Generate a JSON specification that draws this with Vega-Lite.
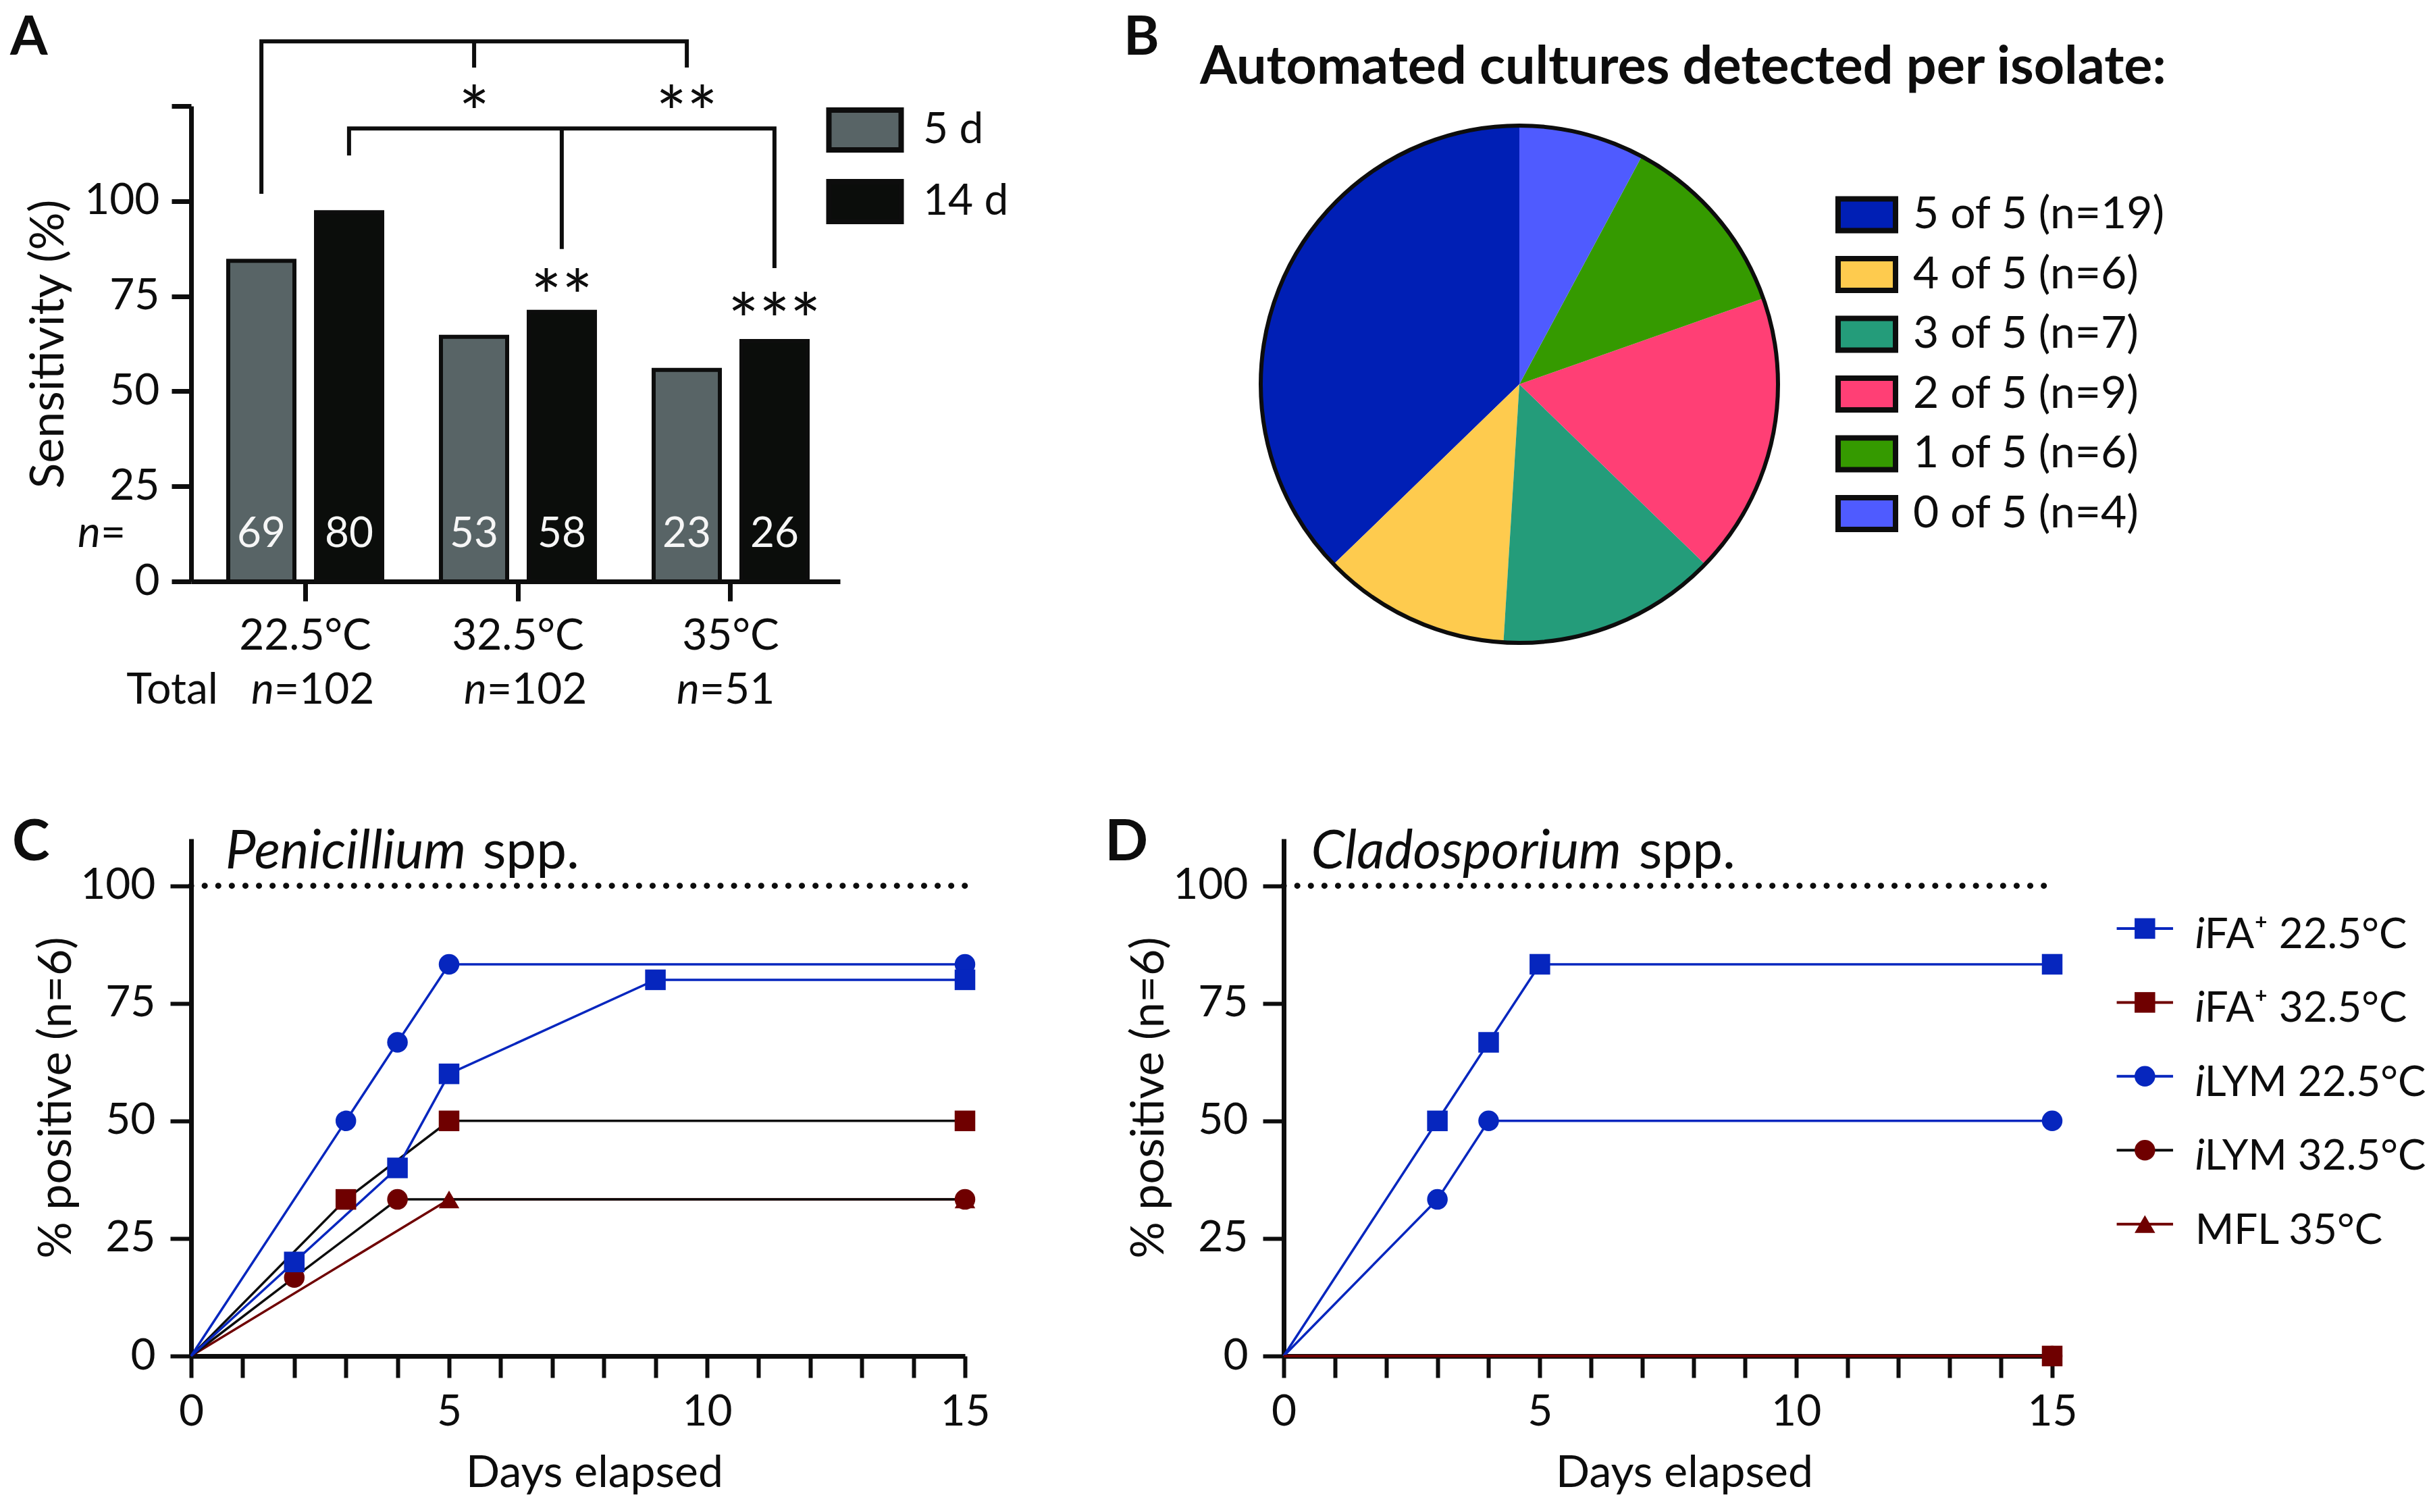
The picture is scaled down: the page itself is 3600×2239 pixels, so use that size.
{
  "$schema": "https://vega.github.io/schema/vega-lite/v6.json",
  "background": "white",
  "padding": {"left": 15, "top": 16, "right": 0, "bottom": 0},
  "columns": 2,
  "align": "all",
  "bounds": "flush",
  "spacing": {"row": 261, "column": 472},
  "resolve": {"scale": {"color": "independent", "fill": "independent", "stroke": "independent", "shape": "independent", "theta": "independent"}},
  "datasets": {
    "bars": [
      {"temp": "22.5°C", "time": "5 d", "sens": 84.3, "n": 69},
      {"temp": "22.5°C", "time": "14 d", "sens": 97.1, "n": 80},
      {"temp": "32.5°C", "time": "5 d", "sens": 64.3, "n": 53},
      {"temp": "32.5°C", "time": "14 d", "sens": 70.9, "n": 58},
      {"temp": "35°C", "time": "5 d", "sens": 55.6, "n": 23},
      {"temp": "35°C", "time": "14 d", "sens": 63.2, "n": 26}
    ],
    "totals": [
      {"temp": "22.5°C", "tot": "=102"},
      {"temp": "32.5°C", "tot": "=102"},
      {"temp": "35°C", "tot": "=51"}
    ],
    "brackets": [
      {"seg": "b1", "o": 1, "g": -0.206, "y": 101.9},
      {"seg": "b1", "o": 2, "g": -0.206, "y": 142.0},
      {"seg": "b1", "o": 3, "g": 1.794, "y": 142.0},
      {"seg": "b1", "o": 4, "g": 1.794, "y": 135.1},
      {"seg": "b1m", "o": 1, "g": 0.794, "y": 142.0},
      {"seg": "b1m", "o": 2, "g": 0.794, "y": 135.1},
      {"seg": "b2", "o": 1, "g": 0.206, "y": 112.0},
      {"seg": "b2", "o": 2, "g": 0.206, "y": 119.1},
      {"seg": "b2", "o": 3, "g": 2.206, "y": 119.1},
      {"seg": "b2", "o": 4, "g": 2.206, "y": 82.4},
      {"seg": "b2m", "o": 1, "g": 1.206, "y": 119.1},
      {"seg": "b2m", "o": 2, "g": 1.206, "y": 87.4}
    ],
    "stars": [
      {"g": 0.794, "y": 116.1, "s": "*"},
      {"g": 1.794, "y": 116.1, "s": "**"},
      {"g": 1.206, "y": 67.9, "s": "**"},
      {"g": 2.206, "y": 61.7, "s": "***"}
    ],
    "pie": [
      {"cat": "5 of 5 (n=19)", "k": 5, "count": 19},
      {"cat": "4 of 5 (n=6)", "k": 4, "count": 6},
      {"cat": "3 of 5 (n=7)", "k": 3, "count": 7},
      {"cat": "2 of 5 (n=9)", "k": 2, "count": 9},
      {"cat": "1 of 5 (n=6)", "k": 1, "count": 6},
      {"cat": "0 of 5 (n=4)", "k": 0, "count": 4}
    ],
    "pen": [
      {"series": "MFL 35°C", "day": 0, "pct": 0},
      {"series": "MFL 35°C", "day": 5, "pct": 33.3},
      {"series": "MFL 35°C", "day": 15, "pct": 33.3},
      {"series": "iLYM 32.5°C", "day": 0, "pct": 0},
      {"series": "iLYM 32.5°C", "day": 2, "pct": 16.7},
      {"series": "iLYM 32.5°C", "day": 4, "pct": 33.3},
      {"series": "iLYM 32.5°C", "day": 15, "pct": 33.3},
      {"series": "iFA+ 32.5°C", "day": 0, "pct": 0},
      {"series": "iFA+ 32.5°C", "day": 3, "pct": 33.3},
      {"series": "iFA+ 32.5°C", "day": 5, "pct": 50},
      {"series": "iFA+ 32.5°C", "day": 15, "pct": 50},
      {"series": "iLYM 22.5°C", "day": 0, "pct": 0},
      {"series": "iLYM 22.5°C", "day": 3, "pct": 50},
      {"series": "iLYM 22.5°C", "day": 4, "pct": 66.7},
      {"series": "iLYM 22.5°C", "day": 5, "pct": 83.3},
      {"series": "iLYM 22.5°C", "day": 15, "pct": 83.3},
      {"series": "iFA+ 22.5°C", "day": 0, "pct": 0},
      {"series": "iFA+ 22.5°C", "day": 2, "pct": 20},
      {"series": "iFA+ 22.5°C", "day": 4, "pct": 40},
      {"series": "iFA+ 22.5°C", "day": 5, "pct": 60},
      {"series": "iFA+ 22.5°C", "day": 9, "pct": 80},
      {"series": "iFA+ 22.5°C", "day": 15, "pct": 80}
    ],
    "clad": [
      {"series": "iLYM 32.5°C", "day": 0, "pct": 0},
      {"series": "iLYM 32.5°C", "day": 15, "pct": 0},
      {"series": "MFL 35°C", "day": 0, "pct": 0},
      {"series": "MFL 35°C", "day": 15, "pct": 0},
      {"series": "iLYM 22.5°C", "day": 0, "pct": 0},
      {"series": "iLYM 22.5°C", "day": 3, "pct": 33.3},
      {"series": "iLYM 22.5°C", "day": 4, "pct": 50},
      {"series": "iLYM 22.5°C", "day": 15, "pct": 50},
      {"series": "iFA+ 22.5°C", "day": 0, "pct": 0},
      {"series": "iFA+ 22.5°C", "day": 3, "pct": 50},
      {"series": "iFA+ 22.5°C", "day": 4, "pct": 66.7},
      {"series": "iFA+ 22.5°C", "day": 5, "pct": 83.3},
      {"series": "iFA+ 22.5°C", "day": 15, "pct": 83.3},
      {"series": "iFA+ 32.5°C", "day": 0, "pct": 0},
      {"series": "iFA+ 32.5°C", "day": 15, "pct": 0}
    ],
    "legD": [
      {"series": "iFA+ 22.5°C", "rest": "FA⁺ 22.5°C"},
      {"series": "iFA+ 32.5°C", "rest": "FA⁺ 32.5°C"},
      {"series": "iLYM 22.5°C", "rest": "LYM 22.5°C"},
      {"series": "iLYM 32.5°C", "rest": "LYM 32.5°C"},
      {"series": "MFL 35°C", "rest": "MFL 35°C"}
    ]
  },
  "concat": [
    {
      "width": 961,
      "height": 704,
      "layer": [
        {
          "layer": [
            {
              "data": {"name": "bars"},
              "mark": {"type": "bar", "stroke": "#0d0d0d", "strokeWidth": 6},
              "encoding": {
                "x": {"field": "temp", "type": "nominal", "scale": {"domain": ["22.5°C", "32.5°C", "35°C"], "paddingInner": 0.276, "paddingOuter": 0.1634, "align": 0.534}, "axis": {"title": null, "labelAngle": 0, "tickSize": 29, "tickWidth": 7, "domainWidth": 7, "labelPadding": 20, "labelFontSize": 64}},
                "xOffset": {"field": "time", "type": "nominal", "scale": {"domain": ["5 d", "14 d"], "paddingInner": 0.246, "paddingOuter": 0}},
                "y": {"field": "sens", "type": "quantitative", "scale": {"domain": [0, 125], "nice": false}, "axis": {"values": [0, 25, 50, 75, 100, 125], "labelExpr": "datum.value === 125 ? '' : datum.label", "title": "Sensitivity (%)", "titleFontSize": 70, "titlePadding": 16, "tickSize": 29, "tickWidth": 7, "domainWidth": 7, "labelPadding": 18, "labelFontSize": 64}},
                "fill": {"field": "time", "type": "nominal", "scale": {"domain": ["5 d", "14 d"], "range": ["#586466", "#0b0d0b"]}, "legend": {"orient": "none", "legendX": 964.5, "legendY": 2, "title": null, "symbolType": "M-1.814,-1H1.814V1H-1.814Z", "symbolSize": 3481, "symbolStrokeColor": "#0d0d0d", "symbolStrokeWidth": 8, "labelFontSize": 64, "labelOffset": 52.5, "rowPadding": 15, "padding": 0, "encode": {"symbols": {"update": {"stroke": {"value": "#0d0d0d"}, "strokeWidth": {"value": 8}}}}}}
              }
            },
            {
              "data": {"name": "bars"},
              "mark": {"type": "text", "baseline": "alphabetic", "align": "center", "fontSize": 62, "color": "#f6f6f6"},
              "encoding": {
                "x": {"field": "temp", "type": "nominal"},
                "xOffset": {"field": "time", "type": "nominal"},
                "y": {"datum": 9.1},
                "text": {"field": "n"}
              }
            },
            {
              "data": {"name": "totals"},
              "mark": {"type": "text", "text": "n", "fontStyle": "italic", "align": "right", "baseline": "alphabetic", "fontSize": 64, "dx": -46, "color": "#0d0d0d"},
              "encoding": {"x": {"field": "temp", "type": "nominal"}, "y": {"datum": -32.2}}
            },
            {
              "data": {"name": "totals"},
              "mark": {"type": "text", "align": "left", "baseline": "alphabetic", "fontSize": 64, "dx": -46, "color": "#0d0d0d"},
              "encoding": {"x": {"field": "temp", "type": "nominal"}, "y": {"datum": -32.2}, "text": {"field": "tot"}}
            }
          ]
        },
        {
          "layer": [
            {
              "data": {"name": "brackets"},
              "mark": {"type": "line", "strokeWidth": 6, "color": "#0d0d0d", "strokeJoin": "miter", "strokeCap": "butt"},
              "encoding": {
                "x": {"field": "g", "type": "quantitative", "scale": {"domain": [-0.5365, 2.5143], "nice": false, "zero": false}, "axis": null},
                "y": {"field": "y", "type": "quantitative", "scale": {"domain": [0, 125], "nice": false}},
                "detail": {"field": "seg"},
                "order": {"field": "o"}
              }
            },
            {
              "data": {"name": "stars"},
              "mark": {"type": "text", "fontSize": 108, "baseline": "alphabetic", "align": "center", "color": "#0d0d0d"},
              "encoding": {
                "x": {"field": "g", "type": "quantitative"},
                "y": {"field": "y", "type": "quantitative"},
                "text": {"field": "s"}
              }
            },
            {
              "data": {"values": [{}]},
              "mark": {"type": "text", "text": "A", "fontSize": 80, "fontWeight": "bold", "align": "left", "baseline": "alphabetic", "color": "#0d0d0d"},
              "encoding": {"x": {"datum": -1.387}, "y": {"datum": 138.5}}
            },
            {
              "data": {"values": [{}]},
              "mark": {"type": "text", "text": "Total", "fontSize": 64, "align": "right", "baseline": "alphabetic", "color": "#0d0d0d"},
              "encoding": {"x": {"datum": -0.41}, "y": {"datum": -32.2}}
            },
            {
              "data": {"values": [{}]},
              "mark": {"type": "text", "text": "n", "fontStyle": "italic", "fontSize": 64, "align": "right", "baseline": "alphabetic", "color": "#0d0d0d"},
              "encoding": {"x": {"datum": -0.962}, "y": {"datum": 9.1}}
            },
            {
              "data": {"values": [{}]},
              "mark": {"type": "text", "text": "=", "fontSize": 64, "align": "left", "baseline": "alphabetic", "color": "#0d0d0d"},
              "encoding": {"x": {"datum": -0.962}, "y": {"datum": 9.1}}
            }
          ]
        }
      ],
      "resolve": {"scale": {"x": "independent"}, "axis": {"x": "independent"}}
    },
    {
      "width": 698,
      "height": 824,
      "layer": [
        {
          "data": {"name": "pie"},
          "mark": {"type": "arc", "radius": 383},
          "encoding": {
            "theta": {"field": "count", "type": "quantitative", "stack": true},
            "order": {"field": "k", "type": "quantitative", "sort": "ascending"},
            "color": {"field": "cat", "type": "nominal", "scale": {"domain": ["5 of 5 (n=19)", "4 of 5 (n=6)", "3 of 5 (n=7)", "2 of 5 (n=9)", "1 of 5 (n=6)", "0 of 5 (n=4)"], "range": ["#001FB5", "#FECB4E", "#249C7A", "#FF3F75", "#359A00", "#4F5BFF"]}, "legend": {"orient": "none", "legendX": 830.5, "legendY": 128, "title": null, "symbolType": "M-1.81,-1H1.81V1H-1.81Z", "symbolSize": 2209, "symbolStrokeColor": "#0d0d0d", "symbolStrokeWidth": 8, "labelFontSize": 66, "labelOffset": 35.5, "rowPadding": 8.5, "padding": 0, "encode": {"symbols": {"update": {"stroke": {"value": "#0d0d0d"}, "strokeWidth": {"value": 8}}}}}}
          }
        },
        {
          "data": {"name": "pie"},
          "mark": {"type": "arc", "radius": 383, "filled": false, "stroke": "#0d0d0d", "strokeWidth": 6},
          "encoding": {
            "theta": {"aggregate": "sum", "field": "count", "type": "quantitative", "stack": true}
          }
        },
        {
          "data": {"values": [{}]},
          "mark": {"type": "text", "text": "B", "fontSize": 80, "fontWeight": "bold", "align": "left", "baseline": "alphabetic", "color": "#0d0d0d"},
          "encoding": {
            "x": {"datum": -1.53, "type": "quantitative", "scale": {"domain": [-0.9112, 0.9112], "nice": false, "zero": false}, "axis": null},
            "y": {"datum": 1.274, "type": "quantitative", "scale": {"domain": [-1.0757, 1.0757], "nice": false, "zero": false}, "axis": null}
          }
        },
        {
          "data": {"values": [{}]},
          "mark": {"type": "text", "text": "Automated cultures detected per isolate:", "fontSize": 79, "fontWeight": "bold", "align": "left", "baseline": "alphabetic", "color": "#0d0d0d"},
          "encoding": {
            "x": {"datum": -1.235, "type": "quantitative"},
            "y": {"datum": 1.162, "type": "quantitative"}
          }
        }
      ]
    },
    {
      "width": 1146,
      "height": 766,
      "layer": [
        {
          "data": {"values": [{}]},
          "mark": {"type": "rule", "strokeDash": [0.1, 20], "strokeCap": "round", "strokeWidth": 9, "color": "#0d0d0d"},
          "encoding": {"x": {"datum": 0}, "x2": {"datum": 15}, "y": {"datum": 100}}
        },
        {
          "data": {"name": "pen"},
          "mark": {"type": "line", "strokeWidth": 3.5},
          "encoding": {
            "x": {"field": "day", "type": "quantitative", "scale": {"domain": [0, 15], "nice": false}, "axis": {"values": [0, 1, 2, 3, 4, 5, 6, 7, 8, 9, 10, 11, 12, 13, 14, 15], "labelExpr": "datum.value % 5 === 0 ? format(datum.value, 'd') : ''", "title": "Days elapsed", "titleFontSize": 66, "titlePadding": 26, "titleX": 597, "tickSize": 32, "tickWidth": 6, "domainWidth": 7, "labelPadding": 19, "labelFontSize": 64, "encode": {"ticks": {"update": {"y2": {"signal": "datum.value % 5 === 0 ? 32 : 18"}}}}}},
            "y": {"field": "pct", "type": "quantitative", "scale": {"domain": [0, 110], "nice": false}, "axis": {"values": [0, 25, 50, 75, 100], "title": "% positive (n=6)", "titleFontSize": 68, "titlePadding": 0, "tickSize": 31, "tickWidth": 6, "domainWidth": 7, "labelPadding": 22, "labelFontSize": 64}},
            "stroke": {"field": "series", "type": "nominal", "scale": {"domain": ["iFA+ 22.5°C", "iFA+ 32.5°C", "iLYM 22.5°C", "iLYM 32.5°C", "MFL 35°C"], "range": ["#0626BE", "#0d0d0d", "#0626BE", "#0d0d0d", "#6F0000"]}, "legend": null}
          }
        },
        {
          "data": {"name": "pen"},
          "transform": [{"filter": "datum.day > 0"}],
          "mark": {"type": "point", "filled": true, "size": 930, "opacity": 1},
          "encoding": {
            "x": {"field": "day", "type": "quantitative"},
            "y": {"field": "pct", "type": "quantitative"},
            "shape": {"field": "series", "type": "nominal", "scale": {"domain": ["iFA+ 22.5°C", "iFA+ 32.5°C", "iLYM 22.5°C", "iLYM 32.5°C", "MFL 35°C"], "range": ["square", "square", "circle", "circle", "triangle-up"]}, "legend": null},
            "fill": {"field": "series", "type": "nominal", "scale": {"domain": ["iFA+ 22.5°C", "iFA+ 32.5°C", "iLYM 22.5°C", "iLYM 32.5°C", "MFL 35°C"], "range": ["#0626BE", "#6F0000", "#0626BE", "#6F0000", "#6F0000"]}, "legend": null}
          }
        },
        {
          "data": {"values": [{}]},
          "mark": {"type": "text", "text": "Penicillium", "fontStyle": "italic", "fontSize": 80, "align": "right", "baseline": "alphabetic", "color": "#0d0d0d"},
          "encoding": {"x": {"datum": 5.33}, "y": {"datum": 103.7}}
        },
        {
          "data": {"values": [{}]},
          "mark": {"type": "text", "text": "spp.", "fontSize": 80, "align": "left", "baseline": "alphabetic", "color": "#0d0d0d"},
          "encoding": {"x": {"datum": 5.65}, "y": {"datum": 103.7}}
        },
        {
          "data": {"values": [{}]},
          "mark": {"type": "text", "text": "C", "fontSize": 84, "fontWeight": "bold", "align": "left", "baseline": "alphabetic", "color": "#0d0d0d"},
          "encoding": {"x": {"datum": -3.47}, "y": {"datum": 105.4}}
        }
      ]
    },
    {
      "width": 1138,
      "height": 766,
      "layer": [
        {
          "layer": [
            {
              "data": {"values": [{}]},
              "mark": {"type": "rule", "strokeDash": [0.1, 20], "strokeCap": "round", "strokeWidth": 9, "color": "#0d0d0d"},
              "encoding": {"x": {"datum": 0}, "x2": {"datum": 15}, "y": {"datum": 100}}
            },
            {
              "data": {"name": "clad"},
              "mark": {"type": "line", "strokeWidth": 3.5},
              "encoding": {
                "x": {"field": "day", "type": "quantitative", "scale": {"domain": [0, 15], "nice": false}, "axis": {"values": [0, 1, 2, 3, 4, 5, 6, 7, 8, 9, 10, 11, 12, 13, 14, 15], "labelExpr": "datum.value % 5 === 0 ? format(datum.value, 'd') : ''", "title": "Days elapsed", "titleFontSize": 66, "titlePadding": 26, "titleX": 593, "tickSize": 32, "tickWidth": 6, "domainWidth": 7, "labelPadding": 19, "labelFontSize": 64, "encode": {"ticks": {"update": {"y2": {"signal": "datum.value % 5 === 0 ? 32 : 18"}}}}}},
                "y": {"field": "pct", "type": "quantitative", "scale": {"domain": [0, 110], "nice": false}, "axis": {"values": [0, 25, 50, 75, 100], "title": "% positive (n=6)", "titleFontSize": 68, "titlePadding": 0, "tickSize": 31, "tickWidth": 6, "domainWidth": 7, "labelPadding": 22, "labelFontSize": 64}},
                "stroke": {"field": "series", "type": "nominal", "scale": {"domain": ["iFA+ 22.5°C", "iFA+ 32.5°C", "iLYM 22.5°C", "iLYM 32.5°C", "MFL 35°C"], "range": ["#0626BE", "#6F0000", "#0626BE", "#0d0d0d", "#6F0000"]}, "legend": null}
              }
            },
            {
              "data": {"name": "clad"},
              "transform": [{"filter": "datum.day > 0"}],
              "mark": {"type": "point", "filled": true, "size": 930, "opacity": 1},
              "encoding": {
                "x": {"field": "day", "type": "quantitative"},
                "y": {"field": "pct", "type": "quantitative"},
                "shape": {"field": "series", "type": "nominal", "scale": {"domain": ["iFA+ 22.5°C", "iFA+ 32.5°C", "iLYM 22.5°C", "iLYM 32.5°C", "MFL 35°C"], "range": ["square", "square", "circle", "circle", "triangle-up"]}, "legend": null},
                "fill": {"field": "series", "type": "nominal", "scale": {"domain": ["iFA+ 22.5°C", "iFA+ 32.5°C", "iLYM 22.5°C", "iLYM 32.5°C", "MFL 35°C"], "range": ["#0626BE", "#6F0000", "#0626BE", "#6F0000", "#6F0000"]}, "legend": null}
              }
            },
            {
              "data": {"values": [{}]},
              "mark": {"type": "text", "text": "Cladosporium", "fontStyle": "italic", "fontSize": 80, "align": "right", "baseline": "alphabetic", "color": "#0d0d0d"},
              "encoding": {"x": {"datum": 6.59}, "y": {"datum": 103.7}}
            },
            {
              "data": {"values": [{}]},
              "mark": {"type": "text", "text": "spp.", "fontSize": 80, "align": "left", "baseline": "alphabetic", "color": "#0d0d0d"},
              "encoding": {"x": {"datum": 6.93}, "y": {"datum": 103.7}}
            },
            {
              "data": {"values": [{}]},
              "mark": {"type": "text", "text": "D", "fontSize": 84, "fontWeight": "bold", "align": "left", "baseline": "alphabetic", "color": "#0d0d0d"},
              "encoding": {"x": {"datum": -3.49}, "y": {"datum": 105.4}}
            }
          ]
        },
        {
          "data": {"name": "legD"},
          "encoding": {
            "y": {"field": "series", "type": "nominal", "scale": {"type": "band", "domain": ["iFA+ 22.5°C", "iFA+ 32.5°C", "iLYM 22.5°C", "iLYM 32.5°C", "MFL 35°C"], "paddingInner": 0, "paddingOuter": 1, "align": 0.3575}, "axis": null}
          },
          "layer": [
            {
              "mark": {"type": "rule", "strokeWidth": 4},
              "encoding": {
                "x": {"datum": 16.26, "scale": {"domain": [0, 15], "nice": false}},
                "x2": {"datum": 17.36},
                "stroke": {"field": "series", "type": "nominal", "scale": {"domain": ["iFA+ 22.5°C", "iFA+ 32.5°C", "iLYM 22.5°C", "iLYM 32.5°C", "MFL 35°C"], "range": ["#0626BE", "#6F0000", "#0626BE", "#0d0d0d", "#6F0000"]}, "legend": null}
              }
            },
            {
              "mark": {"type": "point", "filled": true, "size": 930, "opacity": 1},
              "encoding": {
                "x": {"datum": 16.81},
                "shape": {"field": "series", "type": "nominal", "scale": {"domain": ["iFA+ 22.5°C", "iFA+ 32.5°C", "iLYM 22.5°C", "iLYM 32.5°C", "MFL 35°C"], "range": ["square", "square", "circle", "circle", "triangle-up"]}, "legend": null},
                "fill": {"field": "series", "type": "nominal", "scale": {"domain": ["iFA+ 22.5°C", "iFA+ 32.5°C", "iLYM 22.5°C", "iLYM 32.5°C", "MFL 35°C"], "range": ["#0626BE", "#6F0000", "#0626BE", "#6F0000", "#6F0000"]}, "legend": null}
              }
            },
            {
              "transform": [{"filter": "datum.series !== 'MFL 35°C'"}],
              "mark": {"type": "text", "text": "i", "fontStyle": "italic", "fontSize": 62, "align": "left", "baseline": "alphabetic", "dy": 29, "color": "#0d0d0d"},
              "encoding": {"x": {"datum": 17.79}}
            },
            {
              "transform": [{"filter": "datum.series !== 'MFL 35°C'"}],
              "mark": {"type": "text", "fontSize": 62, "align": "left", "baseline": "alphabetic", "dx": 14, "dy": 29, "color": "#0d0d0d"},
              "encoding": {"x": {"datum": 17.79}, "text": {"field": "rest"}}
            },
            {
              "transform": [{"filter": "datum.series === 'MFL 35°C'"}],
              "mark": {"type": "text", "fontSize": 62, "align": "left", "baseline": "alphabetic", "dy": 29, "color": "#0d0d0d"},
              "encoding": {"x": {"datum": 17.79}, "text": {"field": "rest"}}
            }
          ]
        }
      ],
      "resolve": {"scale": {"y": "independent", "stroke": "independent", "fill": "independent", "shape": "independent"}, "axis": {"y": "independent"}}
    }
  ],
  "config": {
    "font": "Lato",
    "view": {"stroke": null},
    "axis": {"domainColor": "#0d0d0d", "tickColor": "#0d0d0d", "labelColor": "#0d0d0d", "titleColor": "#0d0d0d", "grid": false, "titleFontWeight": "normal", "labelFlush": false, "labelOverlap": false, "labelLimit": 0, "labelFont": "Lato", "titleFont": "Lato"},
    "legend": {"labelLimit": 0, "labelFont": "Lato", "labelColor": "#0d0d0d", "padding": 0}
  }
}
